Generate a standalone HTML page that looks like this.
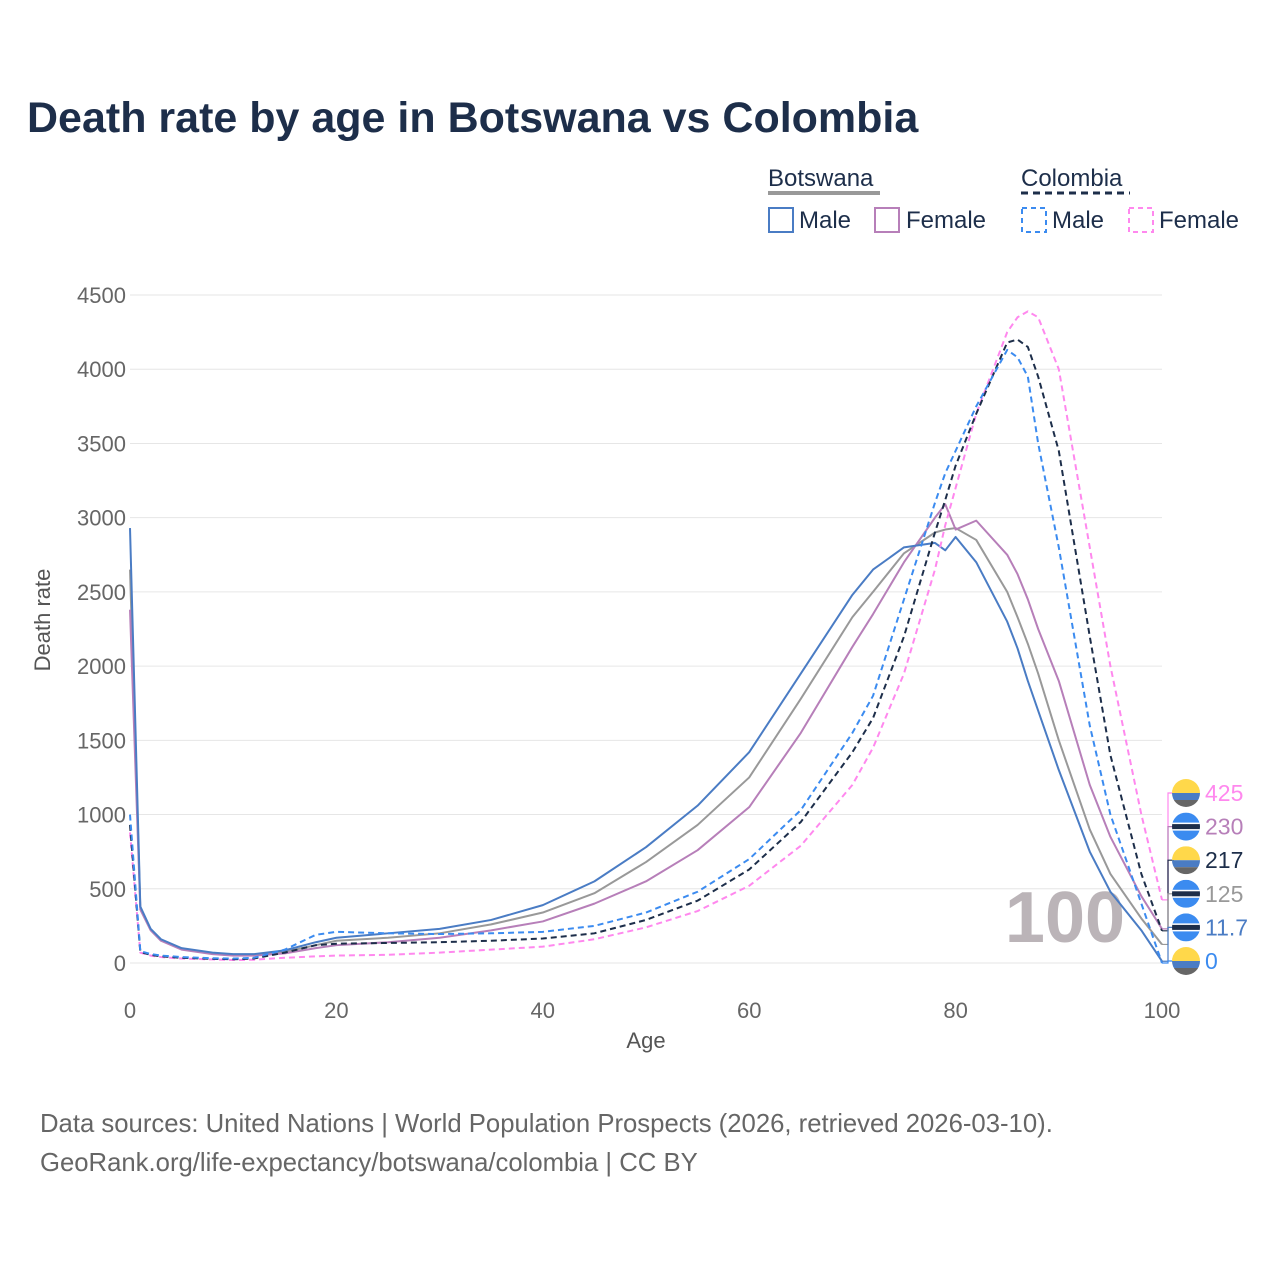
<!DOCTYPE html>
<html><head><meta charset="utf-8"><style>
body{margin:0;background:#fff;font-family:"Liberation Sans",sans-serif}
</style></head><body>
<svg width="1280" height="1280" id="c" xmlns="http://www.w3.org/2000/svg" font-family="Liberation Sans, sans-serif">
<text x="27" y="132" font-size="43" font-weight="bold" fill="#1d2e4a">Death rate by age in Botswana vs Colombia</text>
<g font-size="24" fill="#1d2e4a">
<text x="768" y="186">Botswana</text>
<line x1="768" y1="193" x2="880" y2="193" stroke="#999" stroke-width="4"/>
<text x="1021" y="186">Colombia</text>
<line x1="1021" y1="193" x2="1130" y2="193" stroke="#1d2e4a" stroke-width="3" stroke-dasharray="7,5"/>
<rect x="769" y="208" width="24" height="24" fill="none" stroke="#4a7cc4" stroke-width="2"/>
<text x="799" y="228">Male</text>
<rect x="875" y="208" width="24" height="24" fill="none" stroke="#b77fb9" stroke-width="2"/>
<text x="906" y="228">Female</text>
<rect x="1022" y="208" width="24" height="24" fill="none" stroke="#3b8bf0" stroke-width="2" stroke-dasharray="5,4"/>
<text x="1052" y="228">Male</text>
<rect x="1129" y="208" width="24" height="24" fill="none" stroke="#ff88ee" stroke-width="2" stroke-dasharray="5,4"/>
<text x="1159" y="228">Female</text>
</g>
<g id="grid"></g>
<text x="1065" y="942" font-size="72" font-weight="bold" fill="#bbb4b8" text-anchor="middle">100</text>
<g id="series"></g>
<defs id="defs"></defs>
<g id="labels"></g>
<text x="50" y="620" font-size="22" fill="#555" text-anchor="middle" transform="rotate(-90 50 620)">Death rate</text>
<text x="646" y="1048" font-size="22" fill="#555" text-anchor="middle">Age</text>
<text x="40" y="1132" font-size="25.7" fill="#666">Data sources: United Nations | World Population Prospects (2026, retrieved 2026-03-10).</text>
<text x="40" y="1171" font-size="25.7" fill="#666">GeoRank.org/life-expectancy/botswana/colombia | CC BY</text>
</svg>
<script>
const ages=[0,1,2,3,5,8,10,12,15,18,20,25,30,35,40,45,50,55,60,65,70,72,75,78,79,80,82,85,86,87,88,90,93,95,98,100];
const bwMale=[2930,380,230,160,100,70,60,60,85,140,170,200,230,290,390,550,780,1060,1420,1950,2480,2650,2800,2830,2780,2870,2700,2300,2120,1900,1700,1300,750,480,220,12];
const bwTotal=[2650,370,225,155,95,65,55,55,75,120,150,170,200,260,340,470,680,930,1250,1780,2330,2500,2760,2900,2920,2930,2850,2500,2330,2150,1950,1500,900,600,300,125];
const bwFemale=[2380,360,220,150,90,60,50,50,65,100,120,140,170,220,280,400,550,760,1050,1550,2130,2350,2700,3000,3090,2920,2980,2750,2620,2450,2250,1900,1200,850,450,230];
const coMale=[1000,80,60,50,40,32,30,35,90,190,210,200,195,200,210,250,340,480,700,1030,1550,1800,2450,3100,3300,3450,3750,4130,4080,3950,3500,2800,1600,1000,400,0];
const coTotal=[930,75,55,45,35,28,25,30,70,120,130,135,140,150,165,200,290,420,630,950,1420,1650,2200,2900,3120,3350,3700,4180,4200,4150,3950,3450,2200,1400,600,217];
const coFemale=[880,70,50,40,30,24,20,22,35,45,50,55,70,90,110,160,240,350,520,790,1200,1450,1950,2650,2950,3200,3700,4250,4350,4390,4350,4000,2800,2000,1000,425];
const yTicks=[0,500,1000,1500,2000,2500,3000,3500,4000,4500];
const xTicks=[0,20,40,60,80,100];
const endLabels=["425","230","217","125","11.7","0"];
const NS="http://www.w3.org/2000/svg";
const X=a=>130+a/100*1032, Y=v=>963-v/4500*668;
function mk(t,at,p){const e=document.createElementNS(NS,t);for(const k in at)e.setAttribute(k,at[k]);p.appendChild(e);return e;}
const g=document.getElementById('grid');
yTicks.forEach(v=>{
 const l=mk('line',{x1:130,x2:1162,y1:Y(v),y2:Y(v),stroke:'#e6e6e6','stroke-width':1},g);
 
 
 const t=mk('text',{x:126,y:Y(v)+8,'font-size':22,fill:'#666','text-anchor':'end'},g);t.textContent=v;
 
 
});
xTicks.forEach(v=>{
 const t=mk('text',{x:X(v),y:1018,'font-size':22,fill:'#666','text-anchor':'middle'},g);t.textContent=v;
 
 
});
const s=document.getElementById('series');
const defs=[[bwTotal,'#999',null,'botswana-total'],[bwFemale,'#b77fb9',null,'botswana-female'],[bwMale,'#4a7cc4',null,'botswana-male'],[coFemale,'#ff88ee','6,4','colombia-female'],[coTotal,'#1d2e4a','6,4','colombia-total'],[coMale,'#3b8bf0','6,4','colombia-male']];
defs.forEach(([d,c,da,n])=>{
 const p=mk('polyline',{points:d.map((v,i)=>X(ages[i])+','+Y(v)).join(' '),fill:'none',stroke:c,'stroke-width':2,'stroke-linejoin':'round'},s);
 if(da)p.setAttribute('stroke-dasharray',da);
 
 
});
const lg=document.getElementById('labels');
const df=document.getElementById('defs');
const lc=['#ff88ee','#b77fb9','#1d2e4a','#999','#4a7cc4','#3b8bf0'];
const ev=[coFemale,bwFemale,coTotal,bwTotal,bwMale,coMale].map(a=>a[a.length-1]);
const flagBW=[0,1,3,4];
endLabels.forEach((t,i)=>{
 const y=793+i*33.6;
 mk('path',{d:`M1162 ${Y(ev[i])} H1168 V${y} H1174`,fill:'none',stroke:lc[i],'stroke-width':1.2},lg);
 const cp=mk('clipPath',{id:'cp'+i},df);
 mk('circle',{cx:1186,cy:y,r:14},cp);
 const fg=mk('g',{'clip-path':`url(#cp${i})`},lg);
 const bw=(i===1||i===3||i===4);
 if(bw){
  mk('rect',{x:1172,y:y-14,width:28,height:28,fill:'#3b8bf0'},fg);
  mk('rect',{x:1172,y:y-4,width:28,height:8,fill:'#fff'},fg);
  mk('rect',{x:1172,y:y-2.5,width:28,height:5,fill:'#1d2e4a'},fg);
 } else {
  mk('rect',{x:1172,y:y-14,width:28,height:14,fill:'#ffd84a'},fg);
  mk('rect',{x:1172,y:y,width:28,height:7,fill:'#4a7cc4'},fg);
  mk('rect',{x:1172,y:y+7,width:28,height:7,fill:'#666'},fg);
 }
 const tx=mk('text',{x:1205,y:y+8,'font-size':23,fill:lc[i]},lg);tx.textContent=t;
 
 
});
</script>
</body></html>
